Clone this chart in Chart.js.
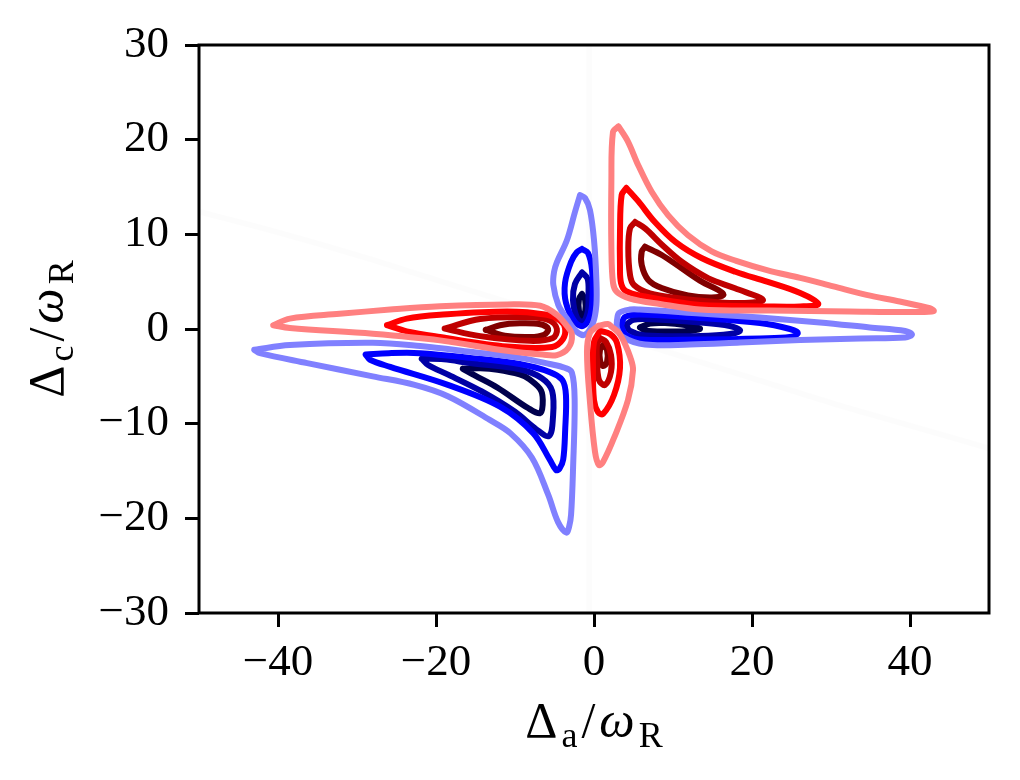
<!DOCTYPE html>
<html><head><meta charset="utf-8">
<script src="https://cdn.jsdelivr.net/npm/chart.js@4/dist/chart.umd.min.js"></script>
<style>html,body{margin:0;padding:0;background:#fff}canvas{display:block}</style>
</head><body>
<canvas id="c" width="1020" height="780"></canvas>
<script>
// ---- tick labels ----
const X_TICKS = [-40, -20, 0, 20, 40];
const Y_TICKS = [-30, -20, -10, 0, 10, 20, 30];
const X_TITLE = [['Δ', 'n'], ['a', 's'], ['/', 'n'], ['ω', 'i'], ['R', 's']];
const Y_TITLE = [['Δ', 'n'], ['c', 's'], ['/', 'n'], ['ω', 'i'], ['R', 's']];

// ---- contour values: [Δa, Δc] ----
// positive levels (red), upper-right lobe
const lrUR = [[3.1,21.4],[4.3,19.8],[5.6,17.3],[7.3,14.5],[9.4,12.0],[11.9,9.9],[14.9,8.2],[18.0,7.2],[22.0,6.2],[26.1,5.4],[30.3,4.5],[34.5,3.6],[38.7,2.9],[42.5,2.2],[43.0,1.9],[40.9,1.8],[32.4,1.85],[22.3,1.95],[13.4,2.06],[8.35,2.64],[4.56,3.22],[2.91,3.91],[2.41,4.86],[2.2,8.5],[2.2,15.6],[2.4,20.8],[3.1,21.4]];
const rUR = [[4.1,14.9],[5.6,13.5],[7.7,11.3],[10.3,9.2],[13.6,7.5],[17.9,6.05],[21.9,5.0],[26.1,3.8],[28.4,2.65],[26.1,2.38],[21.9,2.38],[13.4,2.54],[9.6,2.96],[6.46,3.43],[4.05,4.01],[3.42,4.86],[3.29,6.76],[3.29,10.28],[3.5,14.15],[4.1,14.9]];
const drUR = [[5.2,11.3],[6.5,10.6],[8.6,8.9],[11.1,7.1],[14.5,5.35],[17.85,4.3],[21.4,3.06],[17.85,2.75],[13.4,3.01],[10.9,3.22],[7.09,3.75],[5.06,4.65],[4.56,5.7],[4.34,8.52],[4.56,10.64],[5.2,11.3]];
const dkUR = [[6.46,8.69],[8.57,7.82],[11.1,6.41],[13.63,5.0],[15.73,4.12],[16.37,3.59],[14.9,3.33],[11.9,3.54],[8.57,4.33],[6.87,5.18],[6.04,6.76],[6.04,8.17],[6.46,8.69]];
// positive levels, upper-left lobe
const lrUL = [[-40.6,0.4],[-38.5,1.1],[-32.2,1.6],[-25.8,2.05],[-19.5,2.4],[-11.0,2.6],[-6.8,2.45],[-4.7,1.5],[-3.5,0.4],[-2.8,-0.6],[-3.25,-2.0],[-4.7,-2.75],[-6.5,-2.7],[-11.0,-2.3],[-19.5,-1.2],[-28.0,-0.5],[-38.5,0.1],[-40.6,0.4]];
const rUL = [[-26.2,0.4],[-23.7,1.1],[-19.5,1.5],[-11.0,1.85],[-5.95,1.5],[-4.3,0.9],[-3.67,0.1],[-3.92,-1.06],[-5.3,-1.9],[-11.0,-1.85],[-19.5,-0.85],[-23.7,-0.25],[-26.2,0.4]];
const drUL = [[-18.9,0.05],[-14.4,1.05],[-8.1,1.25],[-5.6,0.9],[-4.7,0.0],[-5.2,-0.95],[-8.1,-1.25],[-14.4,-0.75],[-18.9,0.05]];
const dkUL = [[-13.7,-0.1],[-11.9,0.4],[-9.4,0.6],[-6.8,0.5],[-5.8,0.0],[-6.3,-0.6],[-8.1,-0.85],[-11.3,-0.7],[-13.7,-0.1]];
// positive levels, small central lobe
const lrC = [[0.51,0.32],[1.77,0.53],[2.28,0.21],[3.16,-0.42],[3.92,-1.58],[4.6,-3.0],[4.94,-4.33],[4.3,-7.5],[2.53,-11.51],[1.14,-14.05],[0.63,-14.37],[0.13,-12.99],[-0.51,-7.71],[-0.89,-2.43],[-0.51,-0.42],[0.51,0.32]];
const rC = [[0.76,-0.21],[2.03,-0.53],[2.91,-1.48],[3.29,-4.12],[2.53,-6.97],[1.14,-8.98],[0.51,-8.77],[0.0,-7.5],[-0.13,-4.12],[0.0,-1.37],[0.76,-0.21]];
const drC = [[0.76,-0.95],[1.52,-1.37],[2.15,-2.75],[2.15,-4.54],[1.39,-5.92],[0.63,-5.39],[0.38,-3.27],[0.38,-1.69],[0.76,-0.95]];
const dkC = [[1.14,-1.69],[1.65,-2.22],[1.65,-3.49],[1.14,-3.91],[0.76,-3.27],[0.76,-2.22],[1.14,-1.69]];

// negative levels (blue), lower-left lobe
const lbLL = [[-43.0,-2.2],[-38.5,-1.7],[-28.0,-1.45],[-22.0,-1.8],[-15.7,-2.4],[-9.4,-3.05],[-5.6,-3.7],[-3.7,-4.1],[-2.8,-4.6],[-2.45,-7.5],[-2.65,-14.7],[-2.9,-19.6],[-3.15,-20.9],[-3.5,-21.5],[-4.55,-20.4],[-5.8,-17.5],[-7.85,-13.6],[-10.6,-11.0],[-13.2,-9.6],[-18.5,-7.1],[-22.7,-5.9],[-28.0,-5.0],[-36.3,-3.6],[-42.3,-2.55],[-43.0,-2.2]];
const bLL = [[-28.9,-2.7],[-26.0,-2.55],[-22.0,-2.55],[-15.7,-3.05],[-9.4,-3.7],[-5.6,-4.55],[-4.0,-5.4],[-3.55,-7.0],[-3.65,-10.7],[-3.9,-13.8],[-4.4,-14.8],[-4.8,-14.9],[-5.6,-13.8],[-7.7,-11.0],[-11.9,-8.2],[-18.5,-5.9],[-25.8,-4.0],[-28.35,-3.25],[-28.9,-2.7]];
const navLL = [[-21.8,-3.15],[-19.0,-3.2],[-15.7,-3.6],[-9.4,-4.25],[-6.6,-5.2],[-5.3,-6.55],[-5.2,-9.4],[-5.7,-11.3],[-7.3,-10.6],[-10.0,-8.75],[-14.2,-6.6],[-18.4,-4.85],[-21.0,-3.8],[-21.8,-3.15]];
const dkLL = [[-16.6,-4.2],[-14.4,-4.15],[-12.2,-4.3],[-9.4,-4.8],[-8.2,-5.3],[-6.7,-6.5],[-6.5,-8.0],[-6.85,-8.9],[-8.35,-8.35],[-12.2,-6.2],[-15.1,-4.9],[-16.6,-4.2]];
// negative levels, lower-right lobe
const lbLR = [[2.91,0.95],[3.16,1.69],[4.56,2.06],[5.82,2.06],[13.42,1.64],[21.0,1.21],[28.6,0.69],[34.9,0.16],[39.4,-0.21],[40.25,-0.58],[39.4,-0.9],[33.7,-1.0],[26.1,-1.16],[18.5,-1.43],[12.15,-1.64],[6.46,-1.64],[3.67,-0.85],[2.91,0.11],[2.91,0.95]];
const bLR = [[3.42,0.32],[3.92,1.27],[5.82,1.53],[13.42,1.16],[21.0,0.63],[24.8,0.0],[25.8,-0.42],[24.8,-0.85],[21.0,-1.0],[13.42,-1.11],[5.82,-1.11],[4.05,-0.63],[3.42,0.32]];
const navLR = [[4.05,0.42],[4.94,0.95],[6.46,1.06],[13.42,0.69],[17.2,0.32],[18.5,-0.16],[17.2,-0.53],[13.42,-0.74],[6.46,-0.69],[4.56,-0.21],[4.05,0.42]];
const dkLR = [[5.82,0.16],[7.09,0.58],[8.99,0.63],[11.52,0.42],[13.42,0.05],[12.15,-0.2],[8.99,-0.26],[6.46,-0.15],[5.82,0.16]];
// negative levels, small central lobe
const lbC = [[-1.77,14.15],[-1.14,13.84],[-0.51,12.57],[0.0,9.4],[0.3,5.18],[0.3,2.54],[-0.13,0.63],[-1.14,-0.6],[-2.19,-0.29],[-3.46,1.13],[-4.52,2.54],[-5.15,4.65],[-5.06,6.02],[-4.68,7.08],[-3.42,9.4],[-2.41,12.36],[-1.77,14.15]];
const bC = [[-1.52,8.45],[-0.76,8.03],[-0.25,6.23],[-0.2,3.06],[-0.55,1.27],[-1.39,0.32],[-2.41,0.74],[-3.54,2.75],[-3.67,4.86],[-2.91,7.08],[-2.15,8.13],[-1.52,8.45]];
const navC = [[-1.52,5.97],[-0.8,5.28],[-0.7,3.59],[-0.8,1.8],[-1.39,0.75],[-2.15,1.2],[-2.66,3.06],[-2.41,4.75],[-1.52,5.97]];
const dkC2 = [[-1.52,3.7],[-1.12,3.06],[-1.12,1.85],[-1.52,1.3],[-1.9,1.9],[-1.9,3.17],[-1.52,3.7]];

// nearly invisible zero-level contours
const zeroA = [[-50,12.4],[-40,10.2],[-30,7.8],[-20,5.2],[-10,2.6],[0,0],[10,-2.6],[20,-5.2],[30,-7.8],[40,-10.2],[50,-12.6]];
const zeroB = [[-0.6,30],[-0.6,-30]];

const LEVEL_COLORS = {
  lr: '#ff8080', r: '#ff0000', dr: '#bf0000', dk: '#800000',
  lb: '#8080ff', b: '#0000ff', nav: '#0000a6', dkb: '#00004d'
};

const series = [
  [zeroA, 'rgba(0,0,0,0.012)'], [zeroB, 'rgba(0,0,0,0.012)'],
  [lrUR, LEVEL_COLORS.lr], [rUR, LEVEL_COLORS.r], [drUR, LEVEL_COLORS.dr], [dkUR, LEVEL_COLORS.dk],
  [lrUL, LEVEL_COLORS.lr], [rUL, LEVEL_COLORS.r], [drUL, LEVEL_COLORS.dr], [dkUL, LEVEL_COLORS.dk],
  [lrC, LEVEL_COLORS.lr], [rC, LEVEL_COLORS.r], [drC, LEVEL_COLORS.dr], [dkC, LEVEL_COLORS.dk],
  [lbLL, LEVEL_COLORS.lb], [bLL, LEVEL_COLORS.b], [navLL, LEVEL_COLORS.nav], [dkLL, LEVEL_COLORS.dkb],
  [lbLR, LEVEL_COLORS.lb], [bLR, LEVEL_COLORS.b], [navLR, LEVEL_COLORS.nav], [dkLR, LEVEL_COLORS.dkb],
  [lbC, LEVEL_COLORS.lb], [bC, LEVEL_COLORS.b], [navC, LEVEL_COLORS.nav], [dkC2, LEVEL_COLORS.dkb]
];

const datasets = series.map(([pts, col]) => ({
  data: pts.map(p => ({x: p[0], y: p[1]})),
  showLine: true, borderColor: col, backgroundColor: col,
  borderWidth: 6, pointRadius: 0, pointHoverRadius: 0,
  tension: 0.35, fill: false, borderCapStyle: 'round', borderJoinStyle: 'round'
}));

const FONT = '"Liberation Serif", "DejaVu Serif", serif';
const fmt = v => v < 0 ? '\u2212' + Math.abs(v) : String(v);

function drawMath(ctx, parts, cx, baseline) {
  const big = 50, small = 36, gap = 4;
  const fontOf = k => k === 's' ? `${small}px ${FONT}` : (k === 'i' ? `italic ${big}px ${FONT}` : `${big}px ${FONT}`);
  let total = 0;
  const widths = parts.map(([t, k]) => { ctx.font = fontOf(k); const w = ctx.measureText(t).width + gap; total += w; return w; });
  total -= gap;
  let x = cx - total / 2;
  ctx.textBaseline = 'alphabetic'; ctx.textAlign = 'left'; ctx.fillStyle = '#000';
  parts.forEach(([t, k], i) => {
    ctx.font = fontOf(k);
    ctx.fillText(t, x, baseline + (k === 's' ? 10 : 0));
    x += widths[i];
  });
}

const framePlugin = {
  id: 'frame',
  afterDraw(chart) {
    const {ctx, chartArea: a} = chart;
    ctx.save();
    ctx.strokeStyle = '#000'; ctx.lineWidth = 3;
    ctx.strokeRect(a.left, a.top, a.right - a.left, a.bottom - a.top);
    drawMath(ctx, X_TITLE, (a.left + a.right) / 2, 737);
    ctx.translate(63, (a.top + a.bottom) / 2);
    ctx.rotate(-Math.PI / 2);
    drawMath(ctx, Y_TITLE, 0, 0);
    ctx.restore();
  }
};

const tickFont = {family: FONT, size: 45};
new Chart(document.getElementById('c'), {
  type: 'scatter',
  data: {datasets},
  options: {
    responsive: false, animation: false, devicePixelRatio: 1,
    layout: {padding: {top: 45, right: 31, left: 0, bottom: 0}},
    plugins: {legend: {display: false}, tooltip: {enabled: false}},
    scales: {
      x: {
        type: 'linear', min: -50, max: 50,
        afterBuildTicks: s => { s.ticks = X_TICKS.map(v => ({value: v})); },
        afterFit: s => { s.height = 167; },
        ticks: {callback: v => fmt(v), font: tickFont, color: '#000', padding: 9, maxRotation: 0, autoSkip: false},
        grid: {drawOnChartArea: false, drawTicks: true, tickLength: 14, tickWidth: 3, tickColor: '#000'},
        border: {display: false}
      },
      y: {
        type: 'linear', min: -30, max: 30,
        afterBuildTicks: s => { s.ticks = Y_TICKS.map(v => ({value: v})); },
        afterFit: s => { s.width = 199; },
        ticks: {callback: v => fmt(v), font: tickFont, color: '#000', padding: 16, autoSkip: false},
        grid: {drawOnChartArea: false, drawTicks: true, tickLength: 14, tickWidth: 3, tickColor: '#000'},
        border: {display: false}
      }
    }
  },
  plugins: [framePlugin]
});
</script>
</body></html>
